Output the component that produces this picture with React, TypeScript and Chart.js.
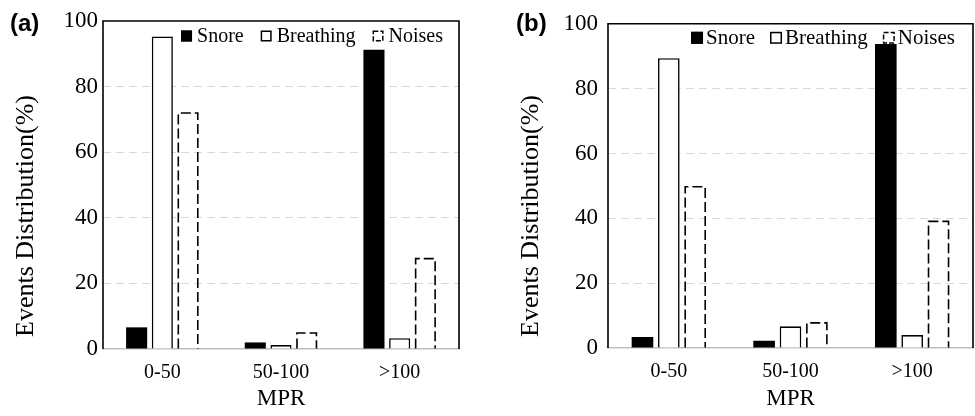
import React, { useEffect, useRef } from 'react';
import { Chart, registerables } from 'chart.js';

Chart.register(...registerables);

const categories = ['0-50', '50-100', '>100'];
const seriesNames = ['Snore', 'Breathing', 'Noises'];
const snoreA = [6.6, 2.0, 91.2];
const breathingA = [95.3, 1.2, 3.3];
const noisesA = [72.2, 5.1, 27.8];
const snoreB = [3.4, 2.2, 93.8];
const breathingB = [89.4, 6.7, 4.0];
const noisesB = [50.0, 8.0, 39.3];
const yMin = 0;
const yMax = 100;
const yStep = 20;
const xTitle = 'MPR';
const yTitle = 'Events Distribution(%)';

const SERIF = "'Liberation Serif', 'Times New Roman', serif";

const framePlugin = {
  id: 'frameLegend',
  afterDatasetsDraw(chart: any) {
    const ctx = chart.ctx;
    chart.data.datasets.forEach((ds: any, i: number) => {
      if (!ds.dashedOutline) return;
      const meta = chart.getDatasetMeta(i);
      ctx.save();
      ctx.strokeStyle = '#000';
      ctx.lineWidth = 1.6;
      ctx.setLineDash([10, 4]);
      meta.data.forEach((el: any) => {
        const { x, y, base, width } = el.getProps(['x', 'y', 'base', 'width'], true);
        const l = x - width / 2 + 0.8;
        const r = x + width / 2 - 0.8;
        const t = y + 0.8;
        ctx.beginPath();
        ctx.moveTo(l, base);
        ctx.lineTo(l, t);
        ctx.lineTo(r, t);
        ctx.lineTo(r, base);
        ctx.stroke();
      });
      ctx.restore();
    });
  },
  afterDraw(chart: any, _args: any, opts: any) {
    const ctx = chart.ctx;
    const { left, right, top, bottom } = chart.chartArea;
    ctx.save();
    ctx.strokeStyle = '#000';
    ctx.lineWidth = 1.6;
    ctx.setLineDash([]);
    ctx.beginPath();
    ctx.moveTo(left, bottom);
    ctx.lineTo(left, top);
    ctx.lineTo(right, top);
    ctx.lineTo(right, bottom);
    ctx.stroke();

    // y-axis title
    ctx.save();
    ctx.font = `${opts.yTitleSize}px ${SERIF}`;
    ctx.fillStyle = '#000';
    ctx.textAlign = 'center';
    ctx.textBaseline = 'middle';
    ctx.translate(opts.yTitleX, opts.yTitleY);
    ctx.rotate(-Math.PI / 2);
    ctx.fillText(opts.yTitleText, 0, 0);
    ctx.restore();

    // legend
    const fontSize = opts.fontSize || 20;
    ctx.font = `${fontSize}px ${SERIF}`;
    ctx.textBaseline = 'middle';
    ctx.textAlign = 'left';
    const box = opts.box || 11;
    const gapText = opts.gapText || 5;
    const gapItem = opts.gapItem || 16;
    const items = chart.data.datasets.map((ds: any) => ({
      label: ds.label,
      w: ctx.measureText(ds.label).width,
      ds,
    }));
    const total = items.reduce((s: number, it: any) => s + box + gapText + it.w, 0) + gapItem * (items.length - 1);
    let x = right - opts.rightInset - total;
    const cy = top + opts.offsetY;
    items.forEach((it: any) => {
      const bx = x;
      const by = cy - box / 2;
      if (it.ds.dashedOutline) {
        ctx.fillStyle = '#fff';
        ctx.fillRect(bx, by, box, box);
        ctx.setLineDash([5, 2]);
        ctx.lineWidth = 1.5;
        ctx.strokeStyle = '#000';
        ctx.strokeRect(bx + 0.75, by + 0.75, box - 1.5, box - 1.5);
        ctx.setLineDash([]);
      } else {
        ctx.fillStyle = it.ds.backgroundColor;
        ctx.fillRect(bx, by, box, box);
        ctx.lineWidth = 1.5;
        ctx.strokeStyle = '#000';
        ctx.strokeRect(bx + 0.75, by + 0.75, box - 1.5, box - 1.5);
      }
      ctx.fillStyle = '#000';
      ctx.fillText(it.label, bx + box + gapText, cy + 1);
      x += box + gapText + it.w + gapItem;
    });
    ctx.restore();
  },
};

function buildConfig(snore: number[], breathing: number[], noises: number[], p: any) {
  return {
    type: 'bar',
    data: {
      labels: categories,
      datasets: [
        {
          label: seriesNames[0],
          data: snore,
          backgroundColor: '#000',
          borderColor: '#000',
          borderWidth: 0,
        },
        {
          label: seriesNames[1],
          data: breathing,
          backgroundColor: '#fff',
          borderColor: '#000',
          borderWidth: 1.6,
        },
        {
          label: seriesNames[2],
          data: noises,
          backgroundColor: 'rgba(0,0,0,0)',
          borderColor: '#000',
          borderWidth: 0,
          dashedOutline: true,
        },
      ],
    },
    options: {
      responsive: false,
      animation: false,
      layout: { padding: { left: 0, right: p.padRight, top: p.padTop, bottom: 0 } },
      datasets: { bar: { categoryPercentage: 0.65, barPercentage: 0.82 } },
      plugins: {
        legend: { display: false },
        tooltip: { enabled: false },
        frameLegend: {
          rightInset: p.legendRight,
          offsetY: p.legendY,
          gapText: p.gapText,
          gapItem: p.gapItem,
          fontSize: p.legendFont,
          box: p.legendBox,
          yTitleText: yTitle,
          yTitleSize: 26,
          yTitleX: p.yTitleX,
          yTitleY: p.yTitleY,
        },
      },
      scales: {
        x: {
          grid: { display: false, drawTicks: false },
          border: { display: true, color: '#bfbfbf', width: 1.6 },
          ticks: { font: { family: SERIF, size: 20 }, color: '#000', padding: 12 },
          title: {
            display: true,
            text: xTitle,
            font: { family: SERIF, size: 23 },
            color: '#000',
            padding: { top: 0, bottom: 3 },
          },
          afterFit: (scale: any) => {
            scale.height = p.xHeight;
          },
        },
        y: {
          min: yMin,
          max: yMax,
          ticks: { stepSize: yStep, font: { family: SERIF, size: 23 }, color: '#000', padding: p.yTickPad },
          grid: {
            drawTicks: false,
            color: (c: any) => (c.tick && (c.tick.value === yMin || c.tick.value === yMax) ? 'rgba(0,0,0,0)' : '#d9d9d9'),
            lineWidth: 1,
          },
          border: { display: false, dash: [8, 5] },
          afterFit: (scale: any) => {
            scale.width = p.yWidth;
          },
        },
      },
    },
    plugins: [framePlugin],
  };
}

function Panel({ snore, breathing, noises, p, width }: any) {
  const ref = useRef<HTMLCanvasElement | null>(null);
  useEffect(() => {
    if (!ref.current) return;
    const chart = new Chart(ref.current, buildConfig(snore, breathing, noises, p) as any);
    return () => chart.destroy();
  }, []);
  return <canvas ref={ref} width={width} height={416} style={{ display: 'block', width, height: 416 }} />;
}

const panelA = {
  padRight: 28,
  padTop: 21,
  xHeight: 67,
  yWidth: 103,
  yTickPad: 5,
  yTitleX: 26,
  yTitleY: 216,
  legendRight: 16,
  legendY: 15,
  legendFont: 20,
  legendBox: 11,
  gapText: 5,
  gapItem: 17,
};

const panelB = {
  padRight: 2,
  padTop: 19,
  xHeight: 68,
  yWidth: 121,
  yTickPad: 10,
  yTitleX: 44,
  yTitleY: 216,
  legendRight: 18,
  legendY: 14,
  legendFont: 21,
  legendBox: 12,
  gapText: 3,
  gapItem: 15,
};

export default function App() {
  const labelStyle: React.CSSProperties = {
    position: 'absolute',
    top: 10,
    fontFamily: "'Liberation Sans', Arial, sans-serif",
    fontWeight: 'bold',
    fontSize: 24,
    lineHeight: '26px',
    color: '#000',
  };
  return (
    <div style={{ position: 'absolute', left: 0, top: 0, width: 975, height: 416, background: '#fff' }}>
      <div style={{ position: 'absolute', left: 0, top: 0 }}>
        <Panel snore={snoreA} breathing={breathingA} noises={noisesA} p={panelA} width={487} />
      </div>
      <div style={{ position: 'absolute', left: 487, top: 0 }}>
        <Panel snore={snoreB} breathing={breathingB} noises={noisesB} p={panelB} width={488} />
      </div>
      <div style={{ ...labelStyle, left: 10 }}>(a)</div>
      <div style={{ ...labelStyle, left: 516 }}>(b)</div>
    </div>
  );
}
